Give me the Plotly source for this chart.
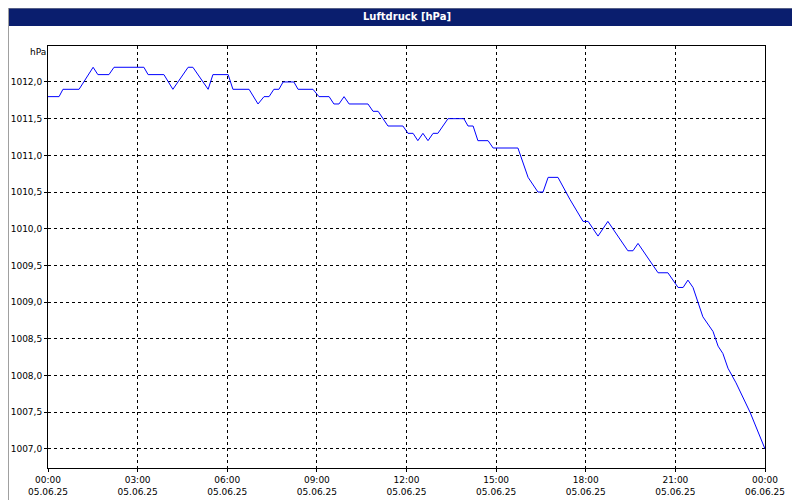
import plotly.graph_objects as go
from datetime import datetime, timedelta

hours = [0, 0.37, 0.50, 1.04, 1.51, 1.67, 2.04, 2.21, 3.21, 3.35, 3.88, 4.18, 4.69, 4.85, 5.36, 5.52,
         6.03, 6.19, 6.73, 7.03, 7.23, 7.40, 7.56, 7.73, 7.87, 8.23, 8.37, 8.87, 9.07, 9.41, 9.57,
         9.74, 9.91, 10.08, 10.71, 10.88, 11.05, 11.38, 11.88, 12.05, 12.22, 12.38, 12.55, 12.72,
         12.89, 13.05, 13.39, 13.92, 14.06, 14.23, 14.39, 14.73, 14.90, 15.73, 16.07, 16.40, 16.57,
         16.74, 17.07, 17.47, 17.91, 18.08, 18.41, 18.74, 19.41, 19.58, 19.75, 20.42, 20.75, 21.09,
         21.26, 21.42, 21.59, 21.92, 22.26, 22.43, 22.59, 22.76, 23.03, 23.26, 23.50, 24.0]
values = [1011.8, 1011.8, 1011.9, 1011.9, 1012.2, 1012.1, 1012.1, 1012.2, 1012.2, 1012.1, 1012.1,
          1011.9, 1012.2, 1012.2, 1011.9, 1012.1, 1012.1, 1011.9, 1011.9, 1011.7, 1011.8, 1011.8,
          1011.9, 1011.9, 1012.0, 1012.0, 1011.9, 1011.9, 1011.8, 1011.8, 1011.7, 1011.7, 1011.8,
          1011.7, 1011.7, 1011.6, 1011.6, 1011.4, 1011.4, 1011.3, 1011.3, 1011.2, 1011.3, 1011.2,
          1011.3, 1011.3, 1011.5, 1011.5, 1011.4, 1011.4, 1011.2, 1011.2, 1011.1, 1011.1, 1010.7,
          1010.5, 1010.5, 1010.7, 1010.7, 1010.4, 1010.1, 1010.1, 1009.9, 1010.1, 1009.7, 1009.7,
          1009.8, 1009.4, 1009.4, 1009.2, 1009.2, 1009.3, 1009.2, 1008.8, 1008.6, 1008.4, 1008.3,
          1008.1, 1007.9, 1007.7, 1007.5, 1007.0]
tick_hours = [0, 3, 6, 9, 12, 15, 18, 21, 24]
tick_labels = ["00:00<br>05.06.25", "03:00<br>05.06.25", "06:00<br>05.06.25", "09:00<br>05.06.25",
               "12:00<br>05.06.25", "15:00<br>05.06.25", "18:00<br>05.06.25", "21:00<br>05.06.25",
               "00:00<br>06.06.25"]
y_ticks = [1007.0, 1007.5, 1008.0, 1008.5, 1009.0, 1009.5, 1010.0, 1010.5, 1011.0, 1011.5, 1012.0]

t0 = datetime(2025, 6, 5)
xs = [t0 + timedelta(hours=h) for h in hours]
tx = [t0 + timedelta(hours=h) for h in tick_hours]

L, R, T, B = 40, 43, 38, 40
PW, PH = 800 - L - R, 500 - T - B

fig = go.Figure(go.Scatter(x=xs, y=values, mode="lines", line=dict(color="#0000ff", width=1),
                           hoverinfo="skip"))
font = dict(family="DejaVu Sans", size=9, color="black")
fig.update_layout(
    width=800, height=500, paper_bgcolor="white", plot_bgcolor="white",
    margin=dict(l=L, r=R, t=T, b=B, autoexpand=False), separators=",.", showlegend=False, font=font,
    xaxis=dict(range=[tx[0], tx[-1]], tickvals=tx, ticktext=tick_labels, showgrid=True, automargin=False,
               gridcolor="black", griddash="3px,3px", gridwidth=1, showline=True, linecolor="black",
               mirror=True, ticks="outside", ticklen=3, tickcolor="black", zeroline=False),
    yaxis=dict(range=[1006.74, 1012.49], tickvals=y_ticks, tickformat=".1f", showgrid=True, automargin=False,
               gridcolor="black", griddash="3px,3px", gridwidth=1, showline=True, linecolor="black",
               mirror=True, ticks="outside", ticklen=3, tickcolor="black", zeroline=False),
    shapes=[
        dict(type="rect", xref="paper", yref="paper", x0=-L/PW, x1=1 + R/PW, y0=1.0 + 20/PH, y1=1.0 + T/PH,
             fillcolor="#0a1e6e", line=dict(width=0), layer="above"),
        dict(type="rect", xref="paper", yref="paper", x0=-L/PW + 0.5/PW, x1=1 + (R - 1)/PW,
             y0=-(B - 0.5)/PH, y1=1.0 + T/PH,
             fillcolor="rgba(0,0,0,0)", line=dict(color="#a0a0a0", width=1)),
    ],
    annotations=[
        dict(text="<b>Luftdruck [hPa]</b>", xref="paper", yref="paper", x=0.5, y=1.0 + 29/PH,
             showarrow=False, font=dict(family="DejaVu Sans", size=10, color="white"), yanchor="middle"),
        dict(text="hPa", xref="paper", yref="paper", x=-20/PW, y=1 - 6/PH, showarrow=False,
             font=font, xanchor="left", yanchor="middle"),
    ],
)
fig.write_html("out.html")
